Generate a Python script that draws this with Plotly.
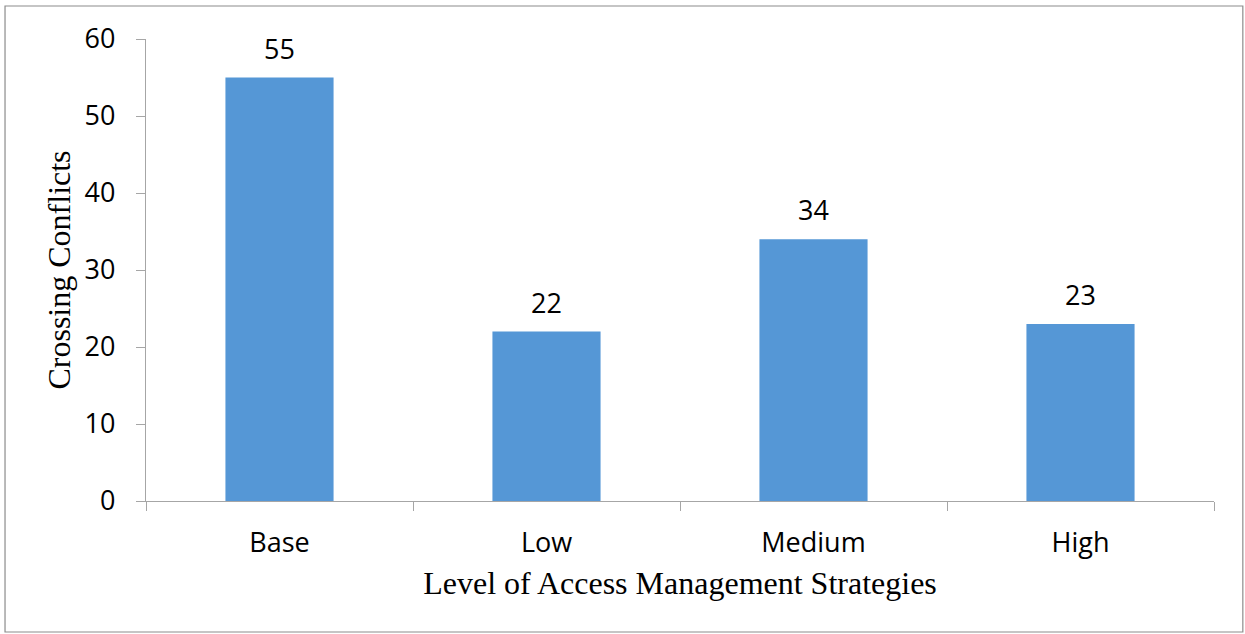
import plotly.graph_objects as go

# Crossing conflicts by level of access management strategy
levels = ["Base", "Low", "Medium", "High"]
conflicts = [55, 22, 34, 23]

y_ticks = [0, 10, 20, 30, 40, 50, 60]

sans = "Open Sans, Noto Sans, sans-serif"
serif = "Liberation Serif, Times New Roman, serif"

fig = go.Figure()

fig.add_trace(go.Bar(
    x=levels,
    y=conflicts,
    marker=dict(color="#5597D6", line=dict(width=0)),
    hoverinfo="x+y",
))

# value labels above each bar
for lvl, val in zip(levels, conflicts):
    fig.add_annotation(
        x=lvl, y=val, text=str(val), showarrow=False,
        yanchor="bottom", yshift=9,
        font=dict(family=sans, size=27, color="#000000"),
    )

# outer frame around the whole chart
fig.add_shape(
    type="rect", xref="paper", yref="paper",
    x0=-0.132, x1=1.027, y0=-0.2835, y1=1.0714,
    line=dict(color="#8C8C8C", width=1.2),
)

fig.update_layout(
    width=1245, height=634,
    margin=dict(l=146, r=31, t=39, b=133),
    paper_bgcolor="white",
    plot_bgcolor="white",
    bargap=0.595,
    showlegend=False,
    xaxis=dict(
        type="category",
        showline=True, linecolor="#A6A6A6", linewidth=1.3,
        ticks="outside", tickson="boundaries", ticklen=9,
        tickcolor="#A6A6A6", tickwidth=1,
        tickfont=dict(family=sans, size=27, color="#000000"),
        ticklabelstandoff=17,
        showgrid=False,
        title=dict(text="Level of Access Management Strategies",
                   font=dict(family=serif, size=32, color="#000000"),
                   standoff=13),
    ),
    yaxis=dict(
        range=[0, 60],
        tickvals=y_ticks,
        showline=True, linecolor="#A6A6A6", linewidth=1.3,
        ticks="outside", ticklen=9, tickcolor="#A6A6A6", tickwidth=1,
        tickfont=dict(family=sans, size=27, color="#000000"),
        ticklabelstandoff=15,
        showgrid=False, zeroline=False,
        title=dict(text="Crossing Conflicts",
                   font=dict(family=serif, size=32, color="#000000"),
                   standoff=4),
    ),
)

fig.write_html("out.html")
